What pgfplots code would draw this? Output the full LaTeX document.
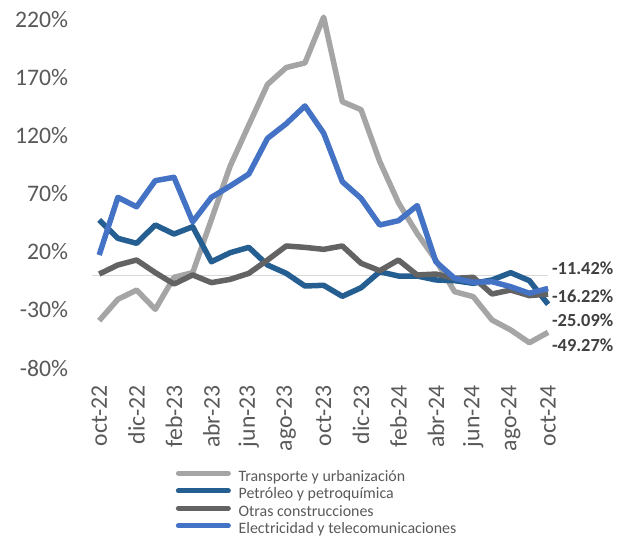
\documentclass[border=0pt]{standalone}
\usepackage{pgfplots}
\pgfplotsset{compat=1.18}
\usepackage{fontspec}
\setmainfont{Carlito}
\definecolor{cTrans}{HTML}{A5A5A5}
\definecolor{cPetro}{HTML}{255E91}
\definecolor{cOtras}{HTML}{636363}
\definecolor{cElec}{HTML}{4472C4}
\definecolor{cTick}{HTML}{595959}
\definecolor{cLab}{HTML}{404040}
\definecolor{cZero}{HTML}{D9D9D9}
\begin{document}
\begin{tikzpicture}
\path[use as bounding box] (-91.7pt,-171pt) rectangle (532.3pt,368pt);
\begin{axis}[
  at={(0pt,0pt)}, anchor=south west,
  scale only axis,
  width=456.4pt, height=348pt,
  xmin=-0.4, xmax=24,
  ymin=-80, ymax=220,
  clip=false,
  axis line style={draw=none},
  major tick length=0pt,
  ytick={-80,-30,20,70,120,170,220},
  yticklabels={-80\%,-30\%,20\%,70\%,120\%,170\%,220\%},
  xtick={0,2,...,24},
  xticklabels={oct-22,dic-22,feb-23,abr-23,jun-23,ago-23,oct-23,dic-23,feb-24,abr-24,jun-24,ago-24,oct-24},
  yticklabel style={anchor=east, inner sep=0pt, xshift=-23.4pt, text=cTick, font=\fontsize{23.7}{28}\selectfont},
  xticklabel style={anchor=east, rotate=90, inner sep=0pt, text=cTick, font=\fontsize{23.7}{28}\selectfont},
  xticklabel shift=17pt,
  legend cell align=left,
  legend style={at={(0.178,-0.2905)}, anchor=north west, draw=none, fill=none,
    inner sep=0pt, row sep=1.5pt, column sep=0pt,
    font=\fontsize{15.9}{18}\selectfont, text=cTick,
    nodes={inner sep=0pt, text height=12pt, text depth=4pt}},
  legend image code/.code={
    \draw[#1, line width=5pt, line cap=round] (2.5pt,4pt) -- (52.5pt,4pt);
    \path (0pt,0pt) (60pt,0pt);
  },
  every axis plot/.append style={line width=5.5pt, line join=round, mark=none},
]
\draw[cZero, line width=1.2pt] (axis cs:-0.4,0) -- (axis cs:24,0);
\addplot[cTrans] coordinates {
(0,-39.2) (1,-20.8) (2,-12.8) (3,-29.4) (4,-1.8) (5,2.2) (6,48) (7,94) (8,129.5) (9,164.5) (10,179) (11,183) (12,222.5) (13,149.6) (14,142.7) (15,98) (16,62.5) (17,36) (18,13) (19,-14.2) (20,-18.5) (21,-38.6) (22,-47.2) (23,-58.2) (24,-49.27)};
\addlegendentry{Transporte y urbanización}
\addplot[cPetro] coordinates {
(0,47.6) (1,31.8) (2,27.5) (3,43.3) (4,35.5) (5,41.8) (6,11.6) (7,19.4) (8,24) (9,8.8) (10,1.6) (11,-9.3) (12,-8.7) (13,-18.2) (14,-10.8) (15,3) (16,-0.7) (17,-0.7) (18,-4.1) (19,-4.7) (20,-7) (21,-4.1) (22,2.2) (23,-4.7) (24,-25.09)};
\addlegendentry{Petróleo y petroquímica}
\addplot[cOtras] coordinates {
(0,1) (1,8.8) (2,13.1) (3,2.2) (4,-7.6) (5,0.2) (6,-6.4) (7,-3.6) (8,1.6) (9,13.1) (10,25.2) (11,24) (12,22.3) (13,25.2) (14,10.3) (15,3.9) (16,13.1) (17,0.2) (18,1) (19,-2.7) (20,-1.8) (21,-16.2) (22,-12.8) (23,-17.6) (24,-16.22)};
\addlegendentry{Otras construcciones}
\addplot[cElec] coordinates {
(0,17.4) (1,67.1) (2,59) (3,81.5) (4,84.4) (5,46) (6,67.1) (7,76.9) (8,87.2) (9,118) (10,130.6) (11,145.9) (12,122.5) (13,80.6) (14,66.3) (15,43.3) (16,47) (17,60) (18,11.6) (19,-2.7) (20,-6.1) (21,-5.6) (22,-9.9) (23,-15.6) (24,-11.42)};
\addlegendentry{Electricidad y telecomunicaciones}
\begin{scope}[every node/.style={anchor=west, inner sep=0pt, text=cLab, font=\bfseries\fontsize{18.4}{22}\selectfont}]
\node at (axis cs:24.2,5.9) {-11.42\%};
\node at (axis cs:24.2,-17.7) {-16.22\%};
\node at (axis cs:24.2,-39.2) {-25.09\%};
\node at (axis cs:24.2,-60.2) {-49.27\%};
\end{scope}
\end{axis}
\end{tikzpicture}
\end{document}
